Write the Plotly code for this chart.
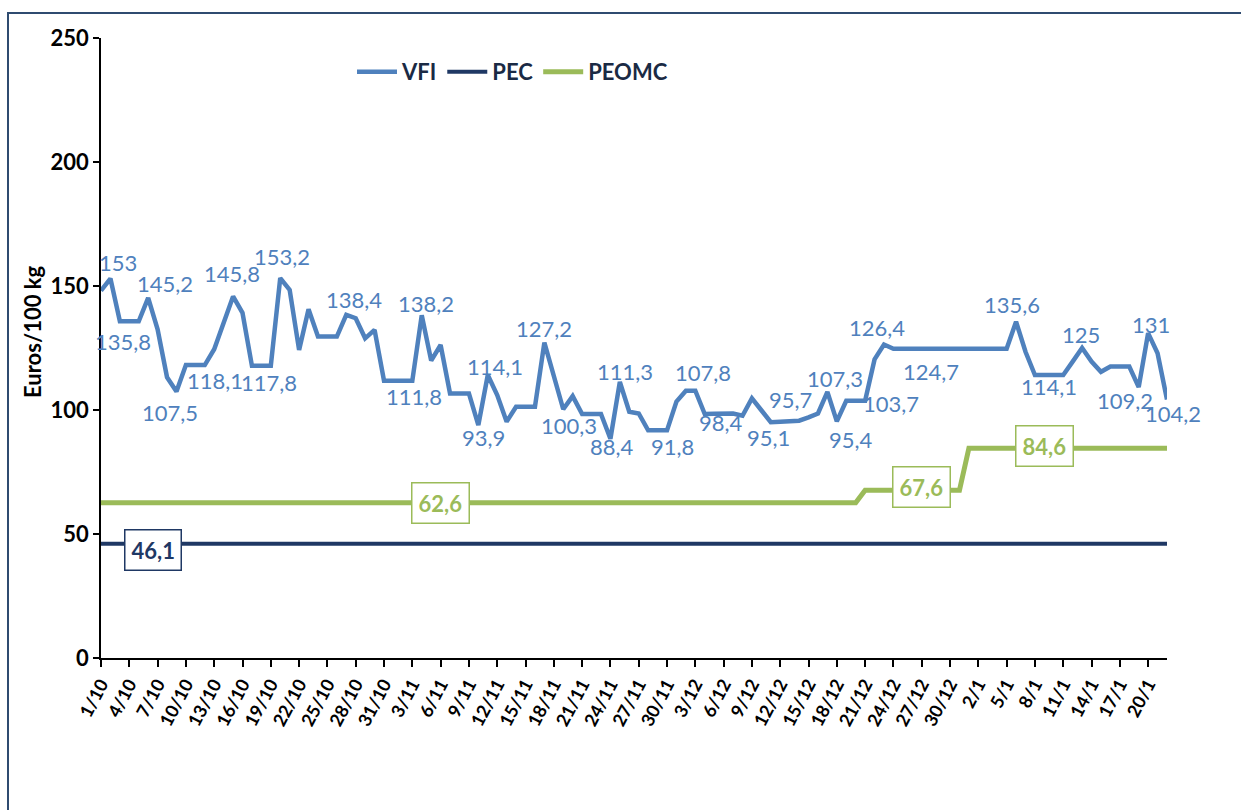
import plotly.graph_objects as go

# ---- data ----
months = [("10", 31), ("11", 30), ("12", 31), ("1", 22)]
dates = [f"{d}/{m}" for m, n in months for d in range(1, n + 1)]

vfi = [148.1, 153, 135.8, 135.8, 135.8, 145.2, 132.5, 113.2, 107.5, 118.1,
       118.1, 118.1, 124.5, 135, 145.8, 139.2, 117.8, 117.8, 117.8, 153.2,
       148.4, 124.2, 140.6, 129.6, 129.6, 129.6, 138.4, 137, 128.9, 132.3,
       111.8, 111.8, 111.8, 111.8, 138.2, 119.9, 126.2, 106.7, 106.7, 106.7,
       93.9, 114.1, 106, 95.3, 101.3, 101.3, 101.3, 127.2, 113.4, 100.3,
       105.6, 98.4, 98.4, 98.4, 88.4, 111.3, 99.3, 98.6, 91.8, 91.8,
       91.8, 103.4, 107.8, 107.8, 98.4, 98.5, 98.6, 98.6, 97.7, 104.7,
       99.9, 95.1, 95.3, 95.5, 95.7, 97, 98.6, 107.3, 95.4, 103.7,
       103.7, 103.7, 120.4, 126.4,
       124.7, 124.7, 124.7, 124.7, 124.7, 124.7, 124.7, 124.7, 124.7, 124.7,
       124.7, 124.7, 124.7,
       135.6, 123.5, 114.1, 114.1, 114.1, 114.1, 119.5, 125, 119.5, 115.4,
       117.5, 117.5, 117.5, 109.2, 131, 122.9, 104.2]
pec = [46.1] * 114
peomc = [62.6] * 81 + [67.6] * 11 + [84.6] * 22

tick_labels = dates[::3]
y_ticks = [0, 50, 100, 150, 200, 250]

# labelled VFI points: (index, xshift, yshift)
vfi_labels = [(1, 8, 16), (2, 3, -20), (5, 17, 14), (8, -6, -21), (11, 10, -15),
              (14, -1, 23), (18, -2, -17), (19, 2, 22), (26, 8, 15), (33, 2, -16),
              (34, 4, 12), (40, 5, -12), (41, 7, 9), (47, 0, 14), (49, 6, -16),
              (54, 2, -8), (55, 5, 10), (60, 5, -16), (63, 8, 18), (64, 16, -9),
              (71, -2, -15), (74, -9, 21), (77, 8, 13), (78, 14, -18), (81, 26, -3),
              (83, -7, 17), (88, 0, -23), (97, -4, 17), (100, 5, -11), (104, -1, 14),
              (110, -14, -13), (111, 3, 9), (113, 6, -14)]
pec_labels = [(5, 5, -6)]
peomc_labels = [(36, 0, 0), (87, 0, 3), (100, 0, 2)]

C_VFI = "#4F81BD"
C_PEC = "#1F3864"
C_PEO = "#9BBB59"
FONT = "Lato, Carlito, Roboto, sans-serif"


def fmt(v):
    s = f"{v:.1f}"
    if s.endswith(".0"):
        s = s[:-2]
    return s.replace(".", ",")


fig = go.Figure()
fig.add_trace(go.Scatter(x=dates, y=vfi, mode="lines", name="VFI",
                         line=dict(color=C_VFI, width=4.5)))
fig.add_trace(go.Scatter(x=dates, y=pec, mode="lines", name="PEC",
                         line=dict(color=C_PEC, width=4)))
fig.add_trace(go.Scatter(x=dates, y=peomc, mode="lines", name="PEOMC",
                         line=dict(color=C_PEO, width=5)))

ann = []
for i, dx, dy in vfi_labels:
    ann.append(dict(x=dates[i], y=vfi[i], text=fmt(vfi[i]), showarrow=False,
                    xshift=dx, yshift=dy,
                    font=dict(family=FONT, size=22, color=C_VFI)))
for i, dx, dy in pec_labels:
    ann.append(dict(x=dates[i], y=pec[i], text="<b>" + fmt(pec[i]) + "</b>",
                    showarrow=False, xshift=dx, yshift=dy,
                    bgcolor="white", bordercolor=C_PEC, borderwidth=1.5,
                    borderpad=6,
                    font=dict(family=FONT, size=22, color=C_PEC)))
for i, dx, dy in peomc_labels:
    ann.append(dict(x=dates[i], y=peomc[i], text="<b>" + fmt(peomc[i]) + "</b>",
                    showarrow=False, xshift=dx, yshift=dy,
                    bgcolor="white", bordercolor=C_PEO, borderwidth=1.5,
                    borderpad=6,
                    font=dict(family=FONT, size=22, color=C_PEO)))
ann.append(dict(xref="paper", yref="paper", x=(32 - 101) / 1066, y=(658 - 332) / 620,
                xanchor="center", yanchor="middle",
                text="<b>Euros/100 kg</b>", textangle=-90, showarrow=False,
                font=dict(family=FONT, size=22, color="black")))

fig.update_layout(
    width=1241, height=810,
    margin=dict(l=101, r=74, t=38, b=152, autoexpand=False),
    paper_bgcolor="white", plot_bgcolor="white",
    showlegend=True,
    legend=dict(orientation="h", x=(352 - 101) / 1066, y=(658 - 72) / 620,
                xanchor="left", yanchor="middle",
                font=dict(family=FONT, size=22, color="#1a2a44", weight="bold"),
                bgcolor="rgba(0,0,0,0)", itemwidth=40),
    annotations=ann,
    xaxis=dict(type="category", range=[0, 113], tickmode="array",
               tickvals=tick_labels, ticktext=tick_labels, tickangle=-62,
               ticks="outside", ticklen=7, tickcolor="black", tickwidth=1.5,
               showline=True, linecolor="black", linewidth=1.5,
               showgrid=False, zeroline=False, automargin=False,
               tickfont=dict(family=FONT, size=18, color="black", weight="bold")),
    yaxis=dict(range=[0, 250], tickvals=y_ticks, ticks="outside", ticklen=6,
               tickcolor="black", tickwidth=1.5,
               showline=True, linecolor="black", linewidth=1.5,
               showgrid=False, zeroline=False, automargin=False,
               tickfont=dict(family=FONT, size=22, color="black", weight="bold")),
    shapes=[dict(type="rect", xref="paper", yref="paper",
                 x0=(8 - 101) / 1066, x1=(1250 - 101) / 1066,
                 y0=(658 - 820) / 620, y1=(658 - 13) / 620,
                 line=dict(color="#2F4B70", width=2), layer="below")],
)

fig.write_html("out.html", config={"displayModeBar": False},
               post_script="document.body.style.margin='0';document.body.style.overflow='hidden';")
